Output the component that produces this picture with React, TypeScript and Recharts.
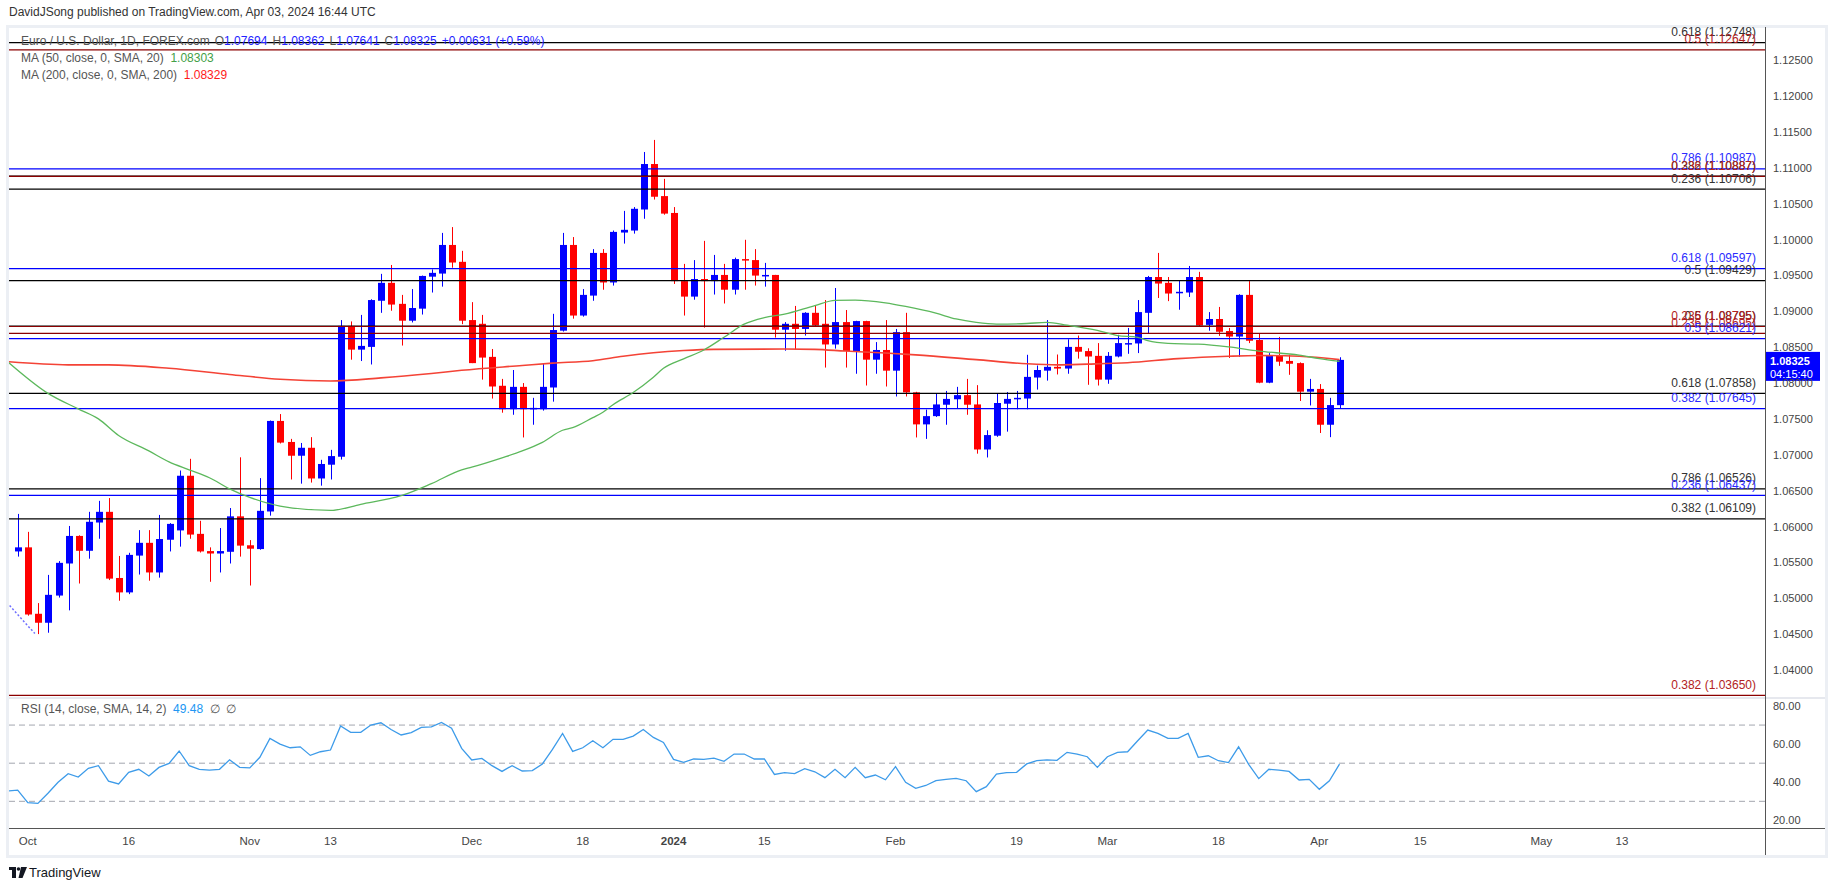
import React from 'react';
import { ComposedChart, Bar, Line, XAxis, YAxis, ReferenceLine } from 'recharts';

const FONT = '"Liberation Sans", Arial, sans-serif';

// ---------- data (bar index 0 = Sep 29 2023 ... 131 = Apr 03 2024) ----------
const opens = [1.05655,1.05712,1.04786,1.04661,1.0504,1.05487,1.05871,1.05664,1.06058,1.06207,1.05285,1.05084,1.05597,1.05775,1.05362,1.05818,1.05948,1.0671,1.059,1.0566,1.05626,1.0565,1.06144,1.05741,1.05688,1.06212,1.07474,1.07181,1.06989,1.071,1.06672,1.06864,1.06975,1.08799,1.08468,1.08506,1.09149,1.09399,1.09106,1.08871,1.09039,1.09485,1.09528,1.09927,1.09692,1.0888,1.08828,1.08367,1.07964,1.07637,1.07949,1.07637,1.07637,1.0794,1.08732,1.09927,1.08943,1.09221,1.09816,1.09404,1.101,1.10128,1.10421,1.11055,1.10608,1.10373,1.09423,1.09207,1.09452,1.09423,1.09509,1.09303,1.0973,1.09716,1.095,1.09509,1.08746,1.08828,1.08756,1.08981,1.08828,1.0854,1.08852,1.08448,1.08866,1.08328,1.08463,1.08175,1.08712,1.07872,1.07426,1.07541,1.077,1.07776,1.07834,1.07704,1.07076,1.07268,1.07714,1.07776,1.07786,1.08079,1.08175,1.08228,1.08204,1.08506,1.08448,1.08381,1.0805,1.08372,1.08549,1.08554,1.08981,1.0948,1.09399,1.09264,1.09264,1.0948,1.08813,1.08895,1.08727,1.0865,1.09231,1.08602,1.08007,1.08381,1.0831,1.0828,1.07882,1.0792,1.07421,1.07694];
const highs = [1.06178,1.05928,1.04935,1.05328,1.0552,1.0601,1.0588,1.06207,1.0636,1.06399,1.05592,1.05636,1.05952,1.05952,1.06164,1.0605,1.06783,1.06946,1.06082,1.05712,1.05981,1.0626,1.06967,1.05813,1.06677,1.0748,1.0757,1.07224,1.07167,1.07248,1.06932,1.07071,1.0888,1.08861,1.08952,1.0917,1.09524,1.09648,1.09231,1.09312,1.095,1.09586,1.10095,1.10176,1.09845,1.0913,1.08952,1.08477,1.0806,1.08184,1.08002,1.07796,1.0828,1.08967,1.10095,1.10037,1.09312,1.09869,1.09869,1.10128,1.10402,1.10455,1.11223,1.11391,1.10848,1.10455,1.09663,1.09716,1.09984,1.09788,1.09663,1.0975,1.09999,1.09869,1.09677,1.0951,1.08852,1.09077,1.0899,1.0909,1.09159,1.09327,1.0902,1.0887,1.0887,1.08573,1.0888,1.08756,1.08981,1.0788,1.07632,1.07853,1.07892,1.07949,1.0806,1.07973,1.07344,1.07853,1.07877,1.07892,1.08396,1.08247,1.0888,1.084,1.08612,1.08664,1.08487,1.08559,1.08434,1.08674,1.0877,1.09159,1.09495,1.09816,1.0948,1.09437,1.09634,1.09552,1.08991,1.09063,1.0877,1.0924,1.09423,1.08688,1.0842,1.08645,1.08396,1.0829,1.0806,1.07988,1.07796,1.08362];
const lows = [1.05583,1.0476,1.04503,1.04522,1.05012,1.04834,1.05208,1.05554,1.05832,1.05256,1.04968,1.0506,1.05333,1.05247,1.0529,1.05655,1.05722,1.05832,1.0564,1.05232,1.05362,1.05487,1.05583,1.0518,1.05679,1.06154,1.0716,1.06658,1.066,1.06615,1.06572,1.06658,1.06936,1.08328,1.08309,1.08261,1.08981,1.0901,1.08525,1.08847,1.08957,1.09264,1.09346,1.0961,1.08823,1.0828,1.0805,1.07786,1.07589,1.0756,1.07244,1.07421,1.07618,1.07743,1.0872,1.089,1.08928,1.09149,1.09303,1.09361,1.09946,1.10085,1.10292,1.1056,1.10349,1.09384,1.08943,1.09164,1.08775,1.09236,1.09111,1.09236,1.09303,1.09361,1.09346,1.08636,1.08453,1.08472,1.08664,1.088,1.08218,1.08482,1.08218,1.08132,1.07968,1.08132,1.07954,1.07815,1.07815,1.07244,1.07224,1.0753,1.07421,1.07642,1.0756,1.07018,1.06965,1.07253,1.07325,1.07637,1.07637,1.07911,1.08036,1.08122,1.08132,1.08343,1.07978,1.07968,1.07992,1.0836,1.0841,1.0842,1.08693,1.09188,1.09144,1.09024,1.09202,1.088,1.08732,1.0866,1.08352,1.08367,1.08559,1.08,1.08,1.08242,1.08117,1.07752,1.0769,1.07306,1.07248,1.07641];
const closes = [1.05712,1.04776,1.04661,1.0505,1.05496,1.05871,1.05664,1.06068,1.06207,1.05276,1.05084,1.05607,1.05775,1.05362,1.05828,1.06039,1.0671,1.0589,1.05655,1.05626,1.0566,1.06144,1.05736,1.05693,1.06221,1.07474,1.07172,1.06989,1.071,1.06672,1.06874,1.06984,1.08799,1.08468,1.0852,1.09159,1.09399,1.09096,1.08871,1.09048,1.09495,1.09538,1.09927,1.09682,1.08871,1.0828,1.08357,1.07954,1.07637,1.07949,1.07637,1.07656,1.07949,1.08741,1.09927,1.08943,1.09231,1.09816,1.09404,1.10109,1.10138,1.10431,1.11055,1.10599,1.10364,1.09423,1.09207,1.09452,1.09423,1.09509,1.09303,1.0973,1.0972,1.095,1.09509,1.08746,1.08828,1.08756,1.08981,1.08804,1.0854,1.08852,1.08448,1.08866,1.08328,1.08463,1.08175,1.08712,1.07872,1.07426,1.07541,1.07704,1.07781,1.07834,1.077,1.07076,1.07277,1.07724,1.07781,1.07796,1.08088,1.08184,1.08228,1.08204,1.08506,1.08439,1.08372,1.0805,1.08381,1.08559,1.08559,1.08991,1.0948,1.09389,1.0925,1.09274,1.0948,1.08804,1.08895,1.08717,1.0865,1.09231,1.08592,1.08007,1.08381,1.083,1.08271,1.07882,1.0792,1.07421,1.07695,1.08325];

const ma50Idx = [-1,3,6,8,10,13,15,17,19,21,23,26,31,34,38,41,44,45,48,50,52,54,55,57,58,59,61,63,64,66,68,70,72,74,76,79,81,83,86,88,91,93,95,97,100,102,104,107,109,111,112,114,117,120,123,127,129,131];
const ma50Val = [1.083,1.07858,1.07642,1.07503,1.07272,1.07056,1.06903,1.06792,1.06682,1.06528,1.06408,1.06288,1.06226,1.06312,1.06432,1.066,1.06792,1.0683,1.0696,1.07056,1.07176,1.07344,1.0738,1.0752,1.07594,1.077,1.0787,1.08084,1.08208,1.0834,1.08463,1.0864,1.08823,1.08914,1.08962,1.09082,1.09154,1.09159,1.0912,1.0907,1.08976,1.08895,1.08847,1.08823,1.08832,1.08847,1.08808,1.08736,1.08664,1.0864,1.08592,1.08554,1.08544,1.08506,1.08448,1.08391,1.08343,1.08303];
const ma200Idx = [-1,5,9,15,21,26,31,36,41,44,50,53,57,60,63,66,69,76,79,82,86,89,95,100,103,106,110,115,120,123,127,131];
const ma200Val = [1.083,1.08256,1.08256,1.08208,1.08122,1.08055,1.08031,1.08074,1.08136,1.0818,1.08247,1.0828,1.08314,1.08376,1.08424,1.08455,1.08472,1.08477,1.08472,1.08448,1.0842,1.08395,1.08328,1.08271,1.08256,1.08266,1.08285,1.08343,1.08376,1.08386,1.08376,1.08329];

const rsiEdge = 35.4;
const rsi = [35.9,29.3,28.9,34.2,40.0,44.5,42.7,47.3,48.7,40.6,39.1,45.2,46.8,43.3,47.8,49.9,56.4,48.7,46.8,46.4,46.8,51.8,47.8,47.5,53.1,63.0,60.0,58.1,58.6,54.1,56.0,56.9,69.5,66.2,66.2,70.0,71.2,67.7,64.8,66.0,68.8,69.1,71.4,68.3,57.8,51.7,52.5,48.7,45.7,48.7,45.9,46.1,49.6,57.2,65.6,56.2,58.1,61.8,58.1,62.5,62.5,64.2,67.7,63.5,60.9,52.0,50.4,52.2,52.0,52.7,51.0,54.8,54.8,52.2,52.2,44.1,45.0,44.5,47.1,45.5,42.4,46.8,42.4,47.8,42.4,43.8,41.3,48.2,40.0,36.8,38.3,40.8,41.5,42.0,40.8,35.1,37.7,44.3,45.0,45.2,49.6,51.3,51.7,51.5,55.7,54.8,53.4,47.8,53.4,55.7,56.0,61.8,67.4,65.6,63.0,63.0,65.6,53.1,53.9,51.3,50.3,58.6,49.4,41.9,46.8,46.4,45.7,41.2,41.5,36.3,40.8,49.48];

const tickIdx = [1,11,23,31,45,56,65,74,87,99,108,119,129,139,151,159];
const tickLabels = ['Oct','16','Nov','13','Dec','18','2024','15','Feb','19','Mar','18','Apr','15','May','13'];

const priceTicks = [1.04,1.045,1.05,1.055,1.06,1.065,1.07,1.075,1.08,1.085,1.09,1.095,1.1,1.105,1.11,1.115,1.12,1.125];
const rsiTicks = [20,40,60,80];
const rsiLevels = [70,50,30];

const fibPrices = [1.12748,1.12647,1.10987,1.10887,1.10883,1.10706,1.09597,1.09429,1.08795,1.0879,1.08695,1.08621,1.07858,1.07645,1.06526,1.06437,1.06109,1.0365];
const fibLabels = ['0.618 (1.12748)','0.5 (1.12647)','0.786 (1.10987)','0.382 (1.10887)','0.236 (1.10887)','0.236 (1.10706)','0.618 (1.09597)','0.5 (1.09429)','0.5 (1.08795)','0.236 (1.08795)','0.236 (1.08695)','0.5 (1.08621)','0.618 (1.07858)','0.382 (1.07645)','0.786 (1.06526)','0.236 (1.06437)','0.382 (1.06109)','0.382 (1.03650)'];
const fibKinds = ['k','r','b','k','r','k','b','k','k','r','r','b','k','b','k','b','k','r'];

const lastPrice = 1.08325;
const trendStart = { x: -0.8, y: 1.049 };
const trendEnd = { x: 1.7, y: 1.0451 };

// ---------- layout ----------
const PLOT_L = 9;
const PLOT_R = 1765;
const BAR0_X = 17.7;
const BAR_STEP = 10.09;
const X_MIN = (PLOT_L - BAR0_X) / BAR_STEP;
const X_MAX = (PLOT_R - BAR0_X) / BAR_STEP;
const P_DOMAIN: [number, number] = [1.03626, 1.12965];
const R_DOMAIN: [number, number] = [16.0, 84.2];

const lineColor: Record<string, string> = { k: '#000000', r: '#8b0000', b: '#0000ff' };
const textColor: Record<string, string> = { k: '#333333', r: '#b22222', b: '#2a2aff' };

function buildPriceRows() {
  const rows: any[] = [{ i: -1 }];
  for (let k = 0; k < opens.length; k++) {
    rows.push({ i: k, o: opens[k], h: highs[k], l: lows[k], c: closes[k], range: [lows[k], highs[k]] });
  }
  ma50Idx.forEach((ix, n) => { rows[ix + 1].ma50 = ma50Val[n]; });
  ma200Idx.forEach((ix, n) => { rows[ix + 1].ma200 = ma200Val[n]; });
  return rows;
}
function buildRsiRows() {
  const rows: any[] = [{ i: -1, rsi: rsiEdge }];
  rsi.forEach((v, k) => rows.push({ i: k, rsi: v }));
  return rows;
}

const Candle = (props: any) => {
  const { x, y, width, height, payload } = props;
  if (!payload || payload.o == null || x == null || y == null) return null;
  const { o, c, h, l } = payload;
  const top = Math.min(y, y + height);
  const hh = Math.abs(height);
  const span = h - l;
  const py = (p: number) => (span === 0 ? top : top + ((h - p) / span) * hh);
  const up = c >= o;
  const color = up ? '#0000ff' : '#ff0000';
  const cx = Math.round(x + width / 2);
  const bTop = py(Math.max(o, c));
  const bBot = py(Math.min(o, c));
  return (
    <g>
      <rect x={cx} y={top} width={1} height={Math.max(1, hh)} fill={color} />
      <rect x={cx - 3} y={bTop} width={7} height={Math.max(1.5, bBot - bTop)} fill={color} />
    </g>
  );
};

const fibLabel = (text: string, color: string) => (props: any) => {
  const vb = props.viewBox || {};
  if (vb.x == null) return null;
  return (
    <text x={vb.x + vb.width - 9} y={vb.y - 6.5} textAnchor="end" fontSize={12} fill={color} fontFamily={FONT}>
      {text}
    </text>
  );
};

const priceTag = (props: any) => {
  const vb = props.viewBox || {};
  if (vb.x == null) return null;
  const x0 = vb.x + vb.width;
  const y0 = vb.y;
  return (
    <g>
      <rect x={x0} y={y0 - 8} width={55} height={29} fill="#0000ff" />
      <text x={x0 + 5} y={y0 + 5} fill="#ffffff" fontSize={11} fontWeight="bold" fontFamily={FONT}>{lastPrice.toFixed(5)}</text>
      <text x={x0 + 5} y={y0 + 18} fill="#ffffff" fontSize={11} fontFamily={FONT}>04:15:40</text>
    </g>
  );
};

const DateTick = (props: any) => {
  const { x, y, payload } = props;
  const n = tickIdx.indexOf(payload.value);
  const label = n >= 0 ? tickLabels[n] : '';
  return (
    <text x={x} y={y} dy={9} textAnchor="middle" fontSize={11.5} fill="#444" fontFamily={FONT} fontWeight={label === '2024' ? 'bold' : 'normal'}>
      {label}
    </text>
  );
};

export default function App() {
  const priceRows = buildPriceRows();
  const rsiRows = buildRsiRows();
  const legendStyle: React.CSSProperties = { position: 'absolute', left: 21, fontSize: 12, color: '#555', whiteSpace: 'nowrap', fontFamily: FONT };
  const blue = '#2323ff';
  const gap: React.CSSProperties = { marginLeft: 5 };
  return (
    <div style={{ position: 'fixed', left: 0, top: 0, width: 1835, height: 891, background: '#fff', overflow: 'hidden', fontFamily: FONT }}>
      <div style={{ position: 'absolute', left: 9, top: 5, fontSize: 12, color: '#333', whiteSpace: 'nowrap' }}>
        DavidJSong published on TradingView.com, Apr 03, 2024 16:44 UTC
      </div>
      <div style={{ position: 'absolute', left: 6, top: 25, width: 1822, height: 833, border: '3px solid #eceff4', boxSizing: 'border-box' }} />
      <div style={{ position: 'absolute', left: 9, top: 697, width: 1816, height: 2, background: '#e6e8ee' }} />

      <div style={{ position: 'absolute', left: 0, top: 0 }}>
        <ComposedChart width={1835} height={891} data={priceRows} margin={{ top: 27, right: 10, bottom: 194, left: 9 }}>
          <XAxis type="number" dataKey="i" domain={[X_MIN, X_MAX]} hide allowDataOverflow />
          <YAxis orientation="right" width={60} type="number" domain={P_DOMAIN} allowDataOverflow ticks={priceTicks}
            tickFormatter={(v: number) => v.toFixed(5)} axisLine={false} tickLine={false}
            tick={{ fill: '#444', fontSize: 11, fontFamily: FONT }} interval={0} />
          {fibPrices.map((p, n) => (
            <ReferenceLine key={'f' + n} y={p} stroke={lineColor[fibKinds[n]]} strokeWidth={1.2} ifOverflow="visible"
              label={fibLabel(fibLabels[n], textColor[fibKinds[n]])} />
          ))}
          <ReferenceLine segment={[trendStart, trendEnd]} stroke="#6f6fff" strokeDasharray="2 2" strokeWidth={1.5} ifOverflow="visible" />
          <Bar dataKey="range" barSize={7} shape={(p: any) => <Candle {...p} />} isAnimationActive={false} />
          <Line dataKey="ma200" type="monotone" stroke="#f44336" strokeWidth={1.6} dot={false} connectNulls isAnimationActive={false} />
          <Line dataKey="ma50" type="monotone" stroke="#5cb85c" strokeWidth={1.3} dot={false} connectNulls isAnimationActive={false} />
          <ReferenceLine y={lastPrice} stroke="none" ifOverflow="visible" label={priceTag} />
        </ComposedChart>
      </div>

      <div style={{ position: 'absolute', left: 0, top: 0 }}>
        <ComposedChart width={1835} height={891} data={rsiRows} margin={{ top: 698, right: 10, bottom: 36, left: 9 }}>
          <XAxis type="number" dataKey="i" domain={[X_MIN, X_MAX]} allowDataOverflow ticks={tickIdx} interval={0}
            height={27} axisLine={false} tickLine={false} tick={<DateTick />} />
          <YAxis orientation="right" width={60} type="number" domain={R_DOMAIN} allowDataOverflow ticks={rsiTicks}
            tickFormatter={(v: number) => v.toFixed(2)} axisLine={false} tickLine={false}
            tick={{ fill: '#444', fontSize: 11, fontFamily: FONT }} interval={0} />
          {rsiLevels.map((v) => (
            <ReferenceLine key={'r' + v} y={v} stroke="#a3a6af" strokeDasharray="6 4" strokeWidth={1} />
          ))}
          <Line dataKey="rsi" type="linear" stroke="#3d9be9" strokeWidth={1.3} dot={false} isAnimationActive={false} />
        </ComposedChart>
      </div>

      <div style={{ position: 'absolute', left: 1765, top: 27, width: 1, height: 828, background: '#555' }} />
      <div style={{ position: 'absolute', left: 9, top: 828, width: 1816, height: 1, background: '#555' }} />

      <div style={{ ...legendStyle, top: 34 }}>
        Euro / U.S. Dollar, 1D, FOREX.com
        <span style={gap}>O<span style={{ color: blue }}>1.07694</span></span>
        <span style={gap}>H<span style={{ color: blue }}>1.08362</span></span>
        <span style={gap}>L<span style={{ color: blue }}>1.07641</span></span>
        <span style={gap}>C<span style={{ color: blue }}>1.08325</span></span>
        <span style={{ ...gap, color: blue }}>+0.00631 (+0.59%)</span>
      </div>
      <div style={{ ...legendStyle, top: 51 }}>
        MA (50, close, 0, SMA, 20)&nbsp;&nbsp;<span style={{ color: '#43a047' }}>1.08303</span>
      </div>
      <div style={{ ...legendStyle, top: 68 }}>
        MA (200, close, 0, SMA, 200)&nbsp;&nbsp;<span style={{ color: '#ff1a1a' }}>1.08329</span>
      </div>
      <div style={{ ...legendStyle, top: 702 }}>
        RSI (14, close, SMA, 14, 2)&nbsp;&nbsp;<span style={{ color: '#2196f3' }}>49.48</span>&nbsp;&nbsp;∅&nbsp;&nbsp;∅
      </div>

      <div style={{ position: 'absolute', left: 9, top: 865, display: 'flex', alignItems: 'center' }}>
        <svg width="18" height="12" viewBox="0 0 18 12">
          <rect x="0" y="0" width="7" height="3" fill="#131722" />
          <rect x="3" y="0" width="4" height="11" fill="#131722" />
          <circle cx="9.5" cy="2" r="1.8" fill="#131722" />
          <path d="M12 0 L18 0 L13.5 11 L9.5 11 Z" fill="#131722" />
        </svg>
        <span style={{ marginLeft: 2, fontSize: 13, color: '#131722' }}>TradingView</span>
      </div>
    </div>
  );
}
